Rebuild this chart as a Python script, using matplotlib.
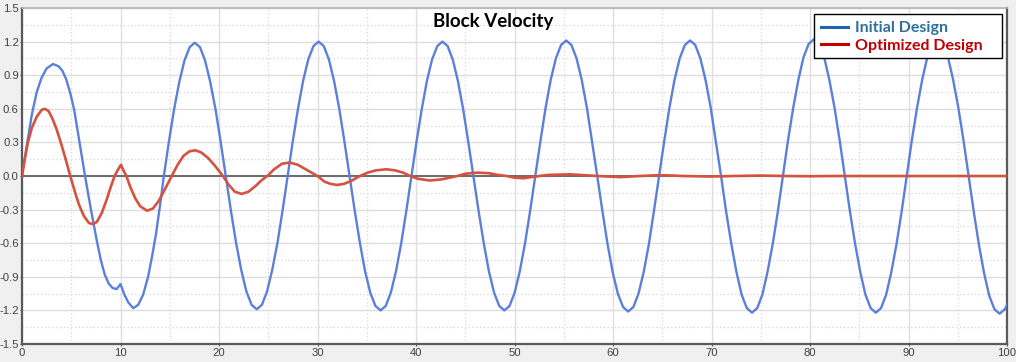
import matplotlib
matplotlib.use("Agg")
import matplotlib.pyplot as plt
from matplotlib.lines import Line2D
from matplotlib.patches import Rectangle
from matplotlib.ticker import MultipleLocator

plt.rcParams['axes.unicode_minus'] = False

# ---------------- data ----------------
title = "Block Velocity"
series_names = ["Initial Design", "Optimized Design"]

x_ticks = [0, 10, 20, 30, 40, 50, 60, 70, 80, 90, 100]
x_tick_labels = ["0", "10", "20", "30", "40", "50", "60", "70", "80", "90", "100"]
y_ticks = [-1.5, -1.2, -0.9, -0.6, -0.3, 0.0, 0.3, 0.6, 0.9, 1.2, 1.5]
y_tick_labels = ["-1.5", "-1.2", "-0.9", "-0.6", "-0.3", "0.0", "0.3", "0.6", "0.9", "1.2", "1.5"]

# Initial design (blue)
initial_x = [
    0, 0.5, 1.0, 1.5, 2.0, 2.5, 3.15, 3.7, 4.1, 4.5, 4.9, 5.3, 5.8, 6.4, 7.0, 7.6, 8.0, 8.4, 8.8, 9.2, 9.6,
    10.0, 10.4, 10.8, 11.3, 11.8, 12.3, 12.8, 13.2, 13.6, 14.0,
    14.40, 14.92, 15.45, 15.97, 16.49, 17.02, 17.54, 18.07, 18.59, 19.11, 19.64, 20.16,
    20.69, 21.21, 21.74, 22.26, 22.78, 23.31, 23.83, 24.36, 24.88, 25.40, 25.93, 26.45,
    26.97, 27.49, 28.02, 28.54, 29.06, 29.59, 30.11, 30.64, 31.16, 31.68, 32.21, 32.73,
    33.26, 33.78, 34.31, 34.83, 35.35, 35.88, 36.40, 36.93, 37.45, 37.97, 38.50, 39.02,
    39.54, 40.06, 40.59, 41.11, 41.63, 42.16, 42.68, 43.21, 43.73, 44.25, 44.78, 45.30,
    45.83, 46.35, 46.88, 47.40, 47.92, 48.45, 48.97, 49.50, 50.02, 50.54, 51.07, 51.59,
    52.11, 52.63, 53.16, 53.68, 54.20, 54.73, 55.25, 55.78, 56.30, 56.82, 57.35, 57.87,
    58.40, 58.92, 59.45, 59.97, 60.49, 61.02, 61.54, 62.07, 62.59, 63.11, 63.64, 64.16,
    64.68, 65.20, 65.73, 66.25, 66.77, 67.30, 67.82, 68.35, 68.87, 69.39, 69.92, 70.44,
    70.97, 71.49, 72.02, 72.54, 73.06, 73.59, 74.11, 74.64, 75.16, 75.68, 76.21, 76.73,
    77.25, 77.77, 78.30, 78.82, 79.34, 79.87, 80.39, 80.92, 81.44, 81.96, 82.49, 83.01,
    83.54, 84.06, 84.59, 85.11, 85.63, 86.16, 86.68, 87.21, 87.73, 88.25, 88.78, 89.30,
    89.82, 90.34, 90.87, 91.39, 91.91, 92.44, 92.96, 93.49, 94.01, 94.53, 95.06, 95.58,
    96.11, 96.63, 97.16, 97.68, 98.20, 98.73, 99.25, 99.78, 100.0,
]
initial_v = [
    0, 0.28, 0.55, 0.75, 0.88, 0.96, 1.00, 0.98, 0.94, 0.86, 0.74, 0.59, 0.32, 0.00, -0.30, -0.58, -0.75, -0.88, -0.96, -1.00, -1.01,
    -0.965, -1.06, -1.13, -1.18, -1.15, -1.06, -0.90, -0.72, -0.52, -0.27,
    0, 0.31, 0.60, 0.84, 1.03, 1.15, 1.19, 1.15, 1.03, 0.84, 0.60, 0.31,
    0, -0.31, -0.60, -0.84, -1.03, -1.15, -1.19, -1.15, -1.03, -0.84, -0.60, -0.31,
    0, 0.31, 0.60, 0.85, 1.04, 1.16, 1.20, 1.16, 1.04, 0.85, 0.60, 0.31,
    0, -0.31, -0.60, -0.85, -1.04, -1.16, -1.20, -1.16, -1.04, -0.85, -0.60, -0.31,
    0, 0.31, 0.60, 0.85, 1.04, 1.16, 1.20, 1.16, 1.04, 0.85, 0.60, 0.31,
    0, -0.31, -0.60, -0.85, -1.04, -1.16, -1.20, -1.16, -1.04, -0.85, -0.60, -0.31,
    0, 0.31, 0.61, 0.86, 1.05, 1.17, 1.21, 1.17, 1.05, 0.86, 0.61, 0.31,
    0, -0.31, -0.61, -0.86, -1.05, -1.17, -1.21, -1.17, -1.05, -0.86, -0.61, -0.31,
    0, 0.31, 0.61, 0.86, 1.05, 1.17, 1.21, 1.17, 1.05, 0.86, 0.61, 0.31,
    0, -0.32, -0.61, -0.86, -1.06, -1.18, -1.22, -1.18, -1.06, -0.86, -0.61, -0.32,
    0, 0.32, 0.61, 0.86, 1.06, 1.18, 1.22, 1.18, 1.06, 0.86, 0.61, 0.32,
    0, -0.32, -0.61, -0.86, -1.06, -1.18, -1.22, -1.18, -1.06, -0.86, -0.61, -0.32,
    0, 0.32, 0.61, 0.86, 1.06, 1.18, 1.22, 1.18, 1.06, 0.86, 0.61, 0.32,
    0, -0.32, -0.62, -0.87, -1.07, -1.19, -1.23, -1.19, -1.15,
]

# Optimized design (red)
optimized_x = [
    0, 0.3, 0.6, 1.0, 1.5, 2.0, 2.3, 2.7, 3.1, 3.5, 3.9, 4.4, 4.9, 5.4, 5.8, 6.3, 6.8, 7.2, 7.6, 8.1, 8.6, 9.0, 9.4, 9.7,
    10.05, 10.3, 10.6, 11.0, 11.5, 12.0, 12.7, 13.3, 13.9, 14.5, 15.2, 15.8, 16.4, 17.0, 17.6, 18.2, 18.9, 19.6,
    20.4, 21.0, 21.6, 22.3, 23.0, 23.7, 24.3, 24.9, 25.6, 26.4, 27.2, 28.0, 28.8, 29.4,
    30.0, 30.7, 31.3, 32.0, 32.7, 33.5, 34.3, 35.1, 35.9, 37.0, 37.9, 38.7, 39.4,
    40.2, 41.4, 42.6, 43.4, 44.2, 45.0, 46.2, 47.4, 48.3, 49.2, 50.0, 50.9, 51.7, 52.5,
    53.5, 55.6, 57.5, 58.5, 60.7, 62.7, 64.8, 67.2, 69.8, 72.2, 74.9, 77.5, 80.0, 82.5, 100.0,
]
optimized_v = [
    0, 0.16, 0.30, 0.43, 0.53, 0.59, 0.60, 0.58, 0.51, 0.42, 0.31, 0.16, 0.00, -0.15, -0.26, -0.36, -0.42, -0.43, -0.41, -0.33, -0.21, -0.10, 0.00, 0.05,
    0.10, 0.05, 0.00, -0.10, -0.20, -0.27, -0.31, -0.29, -0.22, -0.12, 0.00, 0.10, 0.18, 0.22, 0.23, 0.21, 0.16, 0.09,
    0.00, -0.08, -0.14, -0.16, -0.14, -0.09, -0.04, 0.00, 0.06, 0.11, 0.12, 0.10, 0.06, 0.03,
    0.00, -0.05, -0.07, -0.08, -0.07, -0.04, 0.00, 0.03, 0.05, 0.06, 0.05, 0.03, 0.00,
    -0.025, -0.04, -0.03, -0.015, 0.00, 0.02, 0.03, 0.025, 0.01, 0.00, -0.015, -0.02, -0.01, 0.00,
    0.01, 0.015, 0.005, 0.00, -0.01, 0.00, 0.008, 0.00, -0.005, 0.00, 0.004, 0.00, -0.002, 0.00, 0.00,
]

# ---------------- figure ----------------
W, H = 1016, 362
fig = plt.figure(figsize=(W / 100, H / 100), dpi=100, facecolor='#f0f0f0')
ax = fig.add_axes([22 / W, 18 / H, 985 / W, 336 / H])
ax.set_facecolor('white')

ax.set_xlim(0, 100)
ax.set_ylim(-1.5, 1.5)

ax.xaxis.set_minor_locator(MultipleLocator(5))
ax.yaxis.set_minor_locator(MultipleLocator(0.15))
ax.set_xticks(x_ticks)
ax.set_xticklabels(x_tick_labels)
ax.set_yticks(y_ticks)
ax.set_yticklabels(y_tick_labels)

ax.grid(which='major', color='#dedede', linewidth=1.0, linestyle='-')
ax.grid(which='minor', color='#d6d6d6', linewidth=0.9, linestyle=(0, (1, 2)))
ax.set_axisbelow(True)

ax.tick_params(which='major', length=1.5, width=0.8, color='#555555', pad=0.8,
               labelsize=8.1, labelcolor='#404040')
ax.tick_params(axis='x', which='major', pad=1.5)
ax.tick_params(which='minor', length=0)
for lab in ax.get_xticklabels() + ax.get_yticklabels():
    lab.set_family('Liberation Sans')

for side in ['left', 'bottom', 'right']:
    ax.spines[side].set_color('#5a5a5a')
    ax.spines[side].set_linewidth(1.6)
ax.spines['top'].set_color('#b5b5b5')
ax.spines['top'].set_linewidth(1.2)

ax.axhline(0, color='#6a6a6a', linewidth=1.4, zorder=2)

ax.plot(initial_x, initial_v, color='#5b80db', linewidth=1.7, zorder=3,
        solid_joinstyle='round')
ax.plot(optimized_x, optimized_v, color='#d4523f', linewidth=1.9, zorder=4,
        solid_joinstyle='round')

fig.text(493 / W, 1 - 22 / H, title, ha='center', va='center',
         fontsize=13.5, fontweight='bold', family='Lato', color='black')

# legend box (frame drawn to the reference size)
box_l, box_r, box_t, box_b = 814, 1002, 14, 58
fig.patches.append(Rectangle((box_l / W, 1 - box_b / H), (box_r - box_l) / W,
                             (box_b - box_t) / H, transform=fig.transFigure,
                             facecolor='white', edgecolor='black', linewidth=1.0,
                             zorder=5))
handles = [Line2D([], [], color='#1f64b0', linewidth=2.2),
           Line2D([], [], color='#c00000', linewidth=2.2)]
leg = fig.legend(handles, series_names, loc='upper left',
                 bbox_to_anchor=(box_l / W, 1 - box_t / H),
                 frameon=False,
                 prop={'family': 'Lato', 'weight': 'bold', 'size': 11.5},
                 handlelength=1.65, handletextpad=0.45, borderpad=0.45,
                 labelspacing=0.2, borderaxespad=0)
leg.set_zorder(6)
leg.get_texts()[0].set_color('#2e6f9e')
leg.get_texts()[1].set_color('#c00000')

fig.savefig('out.png', dpi=100, facecolor=fig.get_facecolor())
